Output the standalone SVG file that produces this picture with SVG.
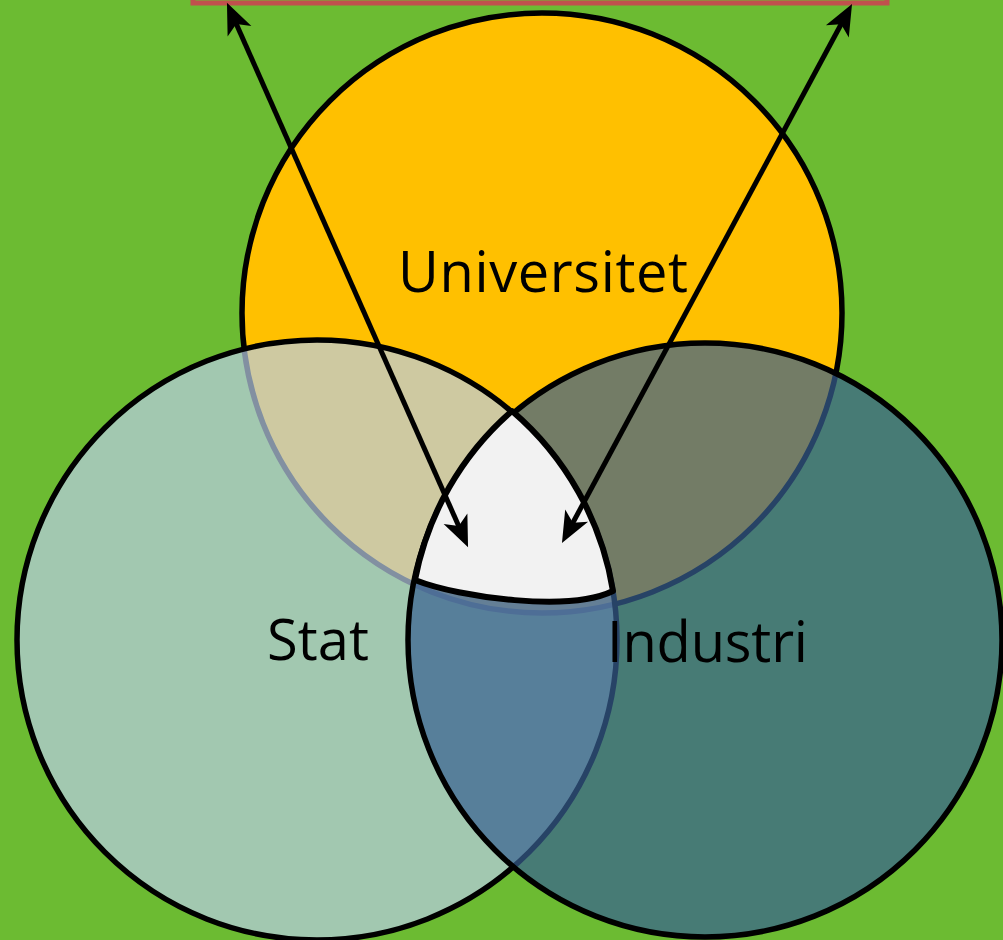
<svg xmlns="http://www.w3.org/2000/svg" width="1003" height="940" viewBox="0 0 1003 940">
<defs>
<style>
.circ{stroke:#000;stroke-width:5.5}
.lbl{font-family:"Open Sans","Liberation Sans",sans-serif;font-size:56px;fill:#000}
.arr{stroke:#000;stroke-width:5;fill:none;marker-start:url(#ah);marker-end:url(#ah)}
</style>
<marker id="ah" markerUnits="userSpaceOnUse" viewBox="-34 -16 48 32" markerWidth="48" markerHeight="32" refX="-10" refY="0" orient="auto-start-reverse">
<path d="M0,0 L-31,-13 L-23,0 L-31,13 Z" fill="#000"/>
</marker>
</defs>
<rect width="1003" height="940" fill="#6CBB32"/>
<g id="frame"><rect x="193" y="-30" width="694" height="33" fill="none" stroke="#C0504D" stroke-width="5"/></g>
<g id="universitet"><circle class="circ" cx="542" cy="313" r="300" fill="#FFC000"/></g>
<g id="stat"><circle class="circ" cx="317" cy="640" r="300" fill="#B9CDE5" fill-opacity="0.7"/></g>
<g id="industri"><circle class="circ" cx="705" cy="640" r="297" fill="#376092" fill-opacity="0.7"/></g>
<g id="center"><path d="M512,411 A297,297 0 0 0 415,580 C460,598 570,612 613,591 A300,300 0 0 0 512,411 Z" fill="#F2F2F2" stroke="#000" stroke-width="6" stroke-linejoin="round"/></g>
<g id="connectors">
<line class="arr" x1="231" y1="12" x2="464" y2="538"/>
<line class="arr" x1="847.3" y1="12.8" x2="566.7" y2="534.2"/>
</g>
<g id="labels">
<text class="lbl" x="398" y="292" textLength="290">Universitet</text>
<text class="lbl" x="267" y="660" textLength="102">Stat</text>
<text class="lbl" x="607" y="662" textLength="201">Industri</text>
</g>
</svg>
